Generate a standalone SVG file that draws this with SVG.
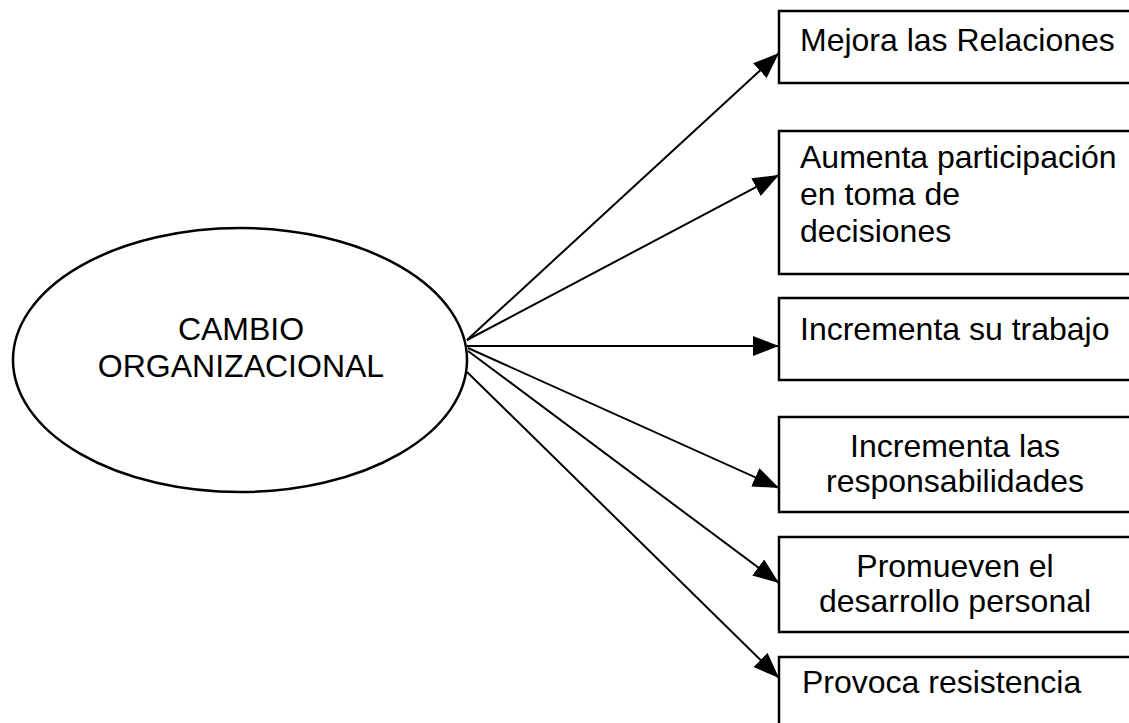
<svg xmlns="http://www.w3.org/2000/svg" width="1129" height="723" viewBox="0 0 1129 723">
<style>
  .box { fill: #fff; stroke: #000; stroke-width: 2.5; }
  .t { font-family: "Liberation Sans", Arial, sans-serif; font-size: 32px; fill: #000; }
  .c { text-anchor: middle; }
  .conn { stroke: #000; stroke-width: 2; fill: none; marker-end: url(#ah); }
</style>
<defs>
  <marker id="ah" markerUnits="userSpaceOnUse" markerWidth="28" markerHeight="22" refX="26" refY="10" orient="auto">
    <path d="M0,0 L26,10 L0,20 z" fill="#000"/>
  </marker>
</defs>
<rect width="1129" height="723" fill="#fff"/>
<g id="connectors">
  <line class="conn" x1="467" y1="340" x2="779" y2="53"/>
  <line class="conn" x1="467" y1="340" x2="779" y2="175"/>
  <line class="conn" x1="467" y1="346" x2="779" y2="346"/>
  <line class="conn" x1="468" y1="348" x2="779" y2="488"/>
  <line class="conn" x1="468" y1="351" x2="779" y2="583"/>
  <line class="conn" x1="467" y1="372" x2="779" y2="678"/>
</g>
<g id="cambio">
  <ellipse cx="240" cy="360" rx="227" ry="132" fill="#fff" stroke="#000" stroke-width="2.5"/>
  <text class="t c" x="241" y="340">CAMBIO</text>
  <text class="t c" x="241" y="377">ORGANIZACIONAL</text>
</g>
<g id="mejora">
  <rect class="box" x="779" y="11" width="360" height="72"/>
  <text class="t" x="800" y="51">Mejora las Relaciones</text>
</g>
<g id="aumenta">
  <rect class="box" x="779" y="131" width="360" height="143"/>
  <text class="t" x="800" y="168">Aumenta participación</text>
  <text class="t" x="800" y="205">en toma de</text>
  <text class="t" x="800" y="242">decisiones</text>
</g>
<g id="incrementa-trabajo">
  <rect class="box" x="779" y="298" width="360" height="82"/>
  <text class="t" x="800" y="340">Incrementa su trabajo</text>
</g>
<g id="incrementa-resp">
  <rect class="box" x="779" y="417" width="352" height="95"/>
  <text class="t c" x="955" y="457">Incrementa las</text>
  <text class="t c" x="955" y="492">responsabilidades</text>
</g>
<g id="promueven">
  <rect class="box" x="779" y="537" width="352" height="95"/>
  <text class="t c" x="955" y="577">Promueven el</text>
  <text class="t c" x="955" y="612">desarrollo personal</text>
</g>
<g id="provoca">
  <rect class="box" x="779" y="657" width="360" height="80"/>
  <text class="t" x="802" y="693">Provoca resistencia</text>
</g>
</svg>
